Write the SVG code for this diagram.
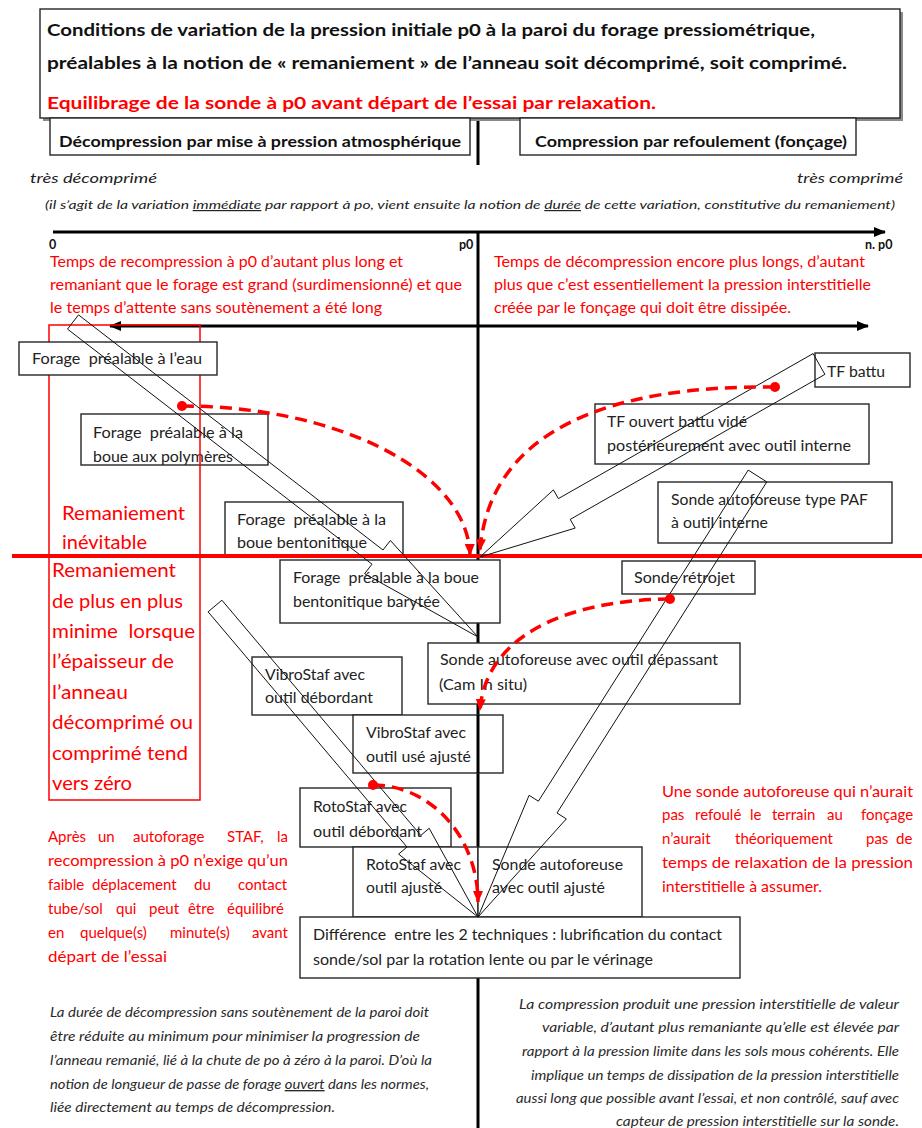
<svg xmlns="http://www.w3.org/2000/svg" width="922" height="1128" viewBox="0 0 922 1128">
<defs>
<style>
.f{font-family:Lato,"Liberation Sans",sans-serif}
.n{font-size:14.5px;fill:#222}
.box{fill:#fff;stroke:#262626;stroke-width:1.4}
.hb{font-weight:bold}
.red{fill:#ff0000}
.it{font-style:italic}
.ho{fill:none;stroke:#111;stroke-width:1}
.dash{fill:none;stroke:#ff0000;stroke-width:3.5;stroke-dasharray:12 7}
.ax{stroke:#000;stroke-width:3;fill:none}
.rb{fill:none;stroke:#ff0000;stroke-width:1.5}
.rt{font-size:14.5px;fill:#ff0000}
.rbig{font-size:20px;fill:#ff0000}
.bi{font-size:13.5px;fill:#2a2a2a;font-style:italic}
</style>
<marker id="ak" viewBox="0 0 12 10" refX="11" refY="5" markerWidth="12" markerHeight="10" markerUnits="userSpaceOnUse" orient="auto-start-reverse"><path d="M0,0 L12,5 L0,10 z" fill="#000"/></marker>
<marker id="ar" viewBox="0 0 12 10" refX="11" refY="5" markerWidth="12" markerHeight="10" markerUnits="userSpaceOnUse" orient="auto"><path d="M0,0 L12,5 L0,10 z" fill="#ff0000"/></marker>
</defs>
<rect width="922" height="1128" fill="#fff"/>

<g id="axes">
<line class="ax" x1="478" y1="118" x2="478" y2="165"/>
<line class="ax" x1="478" y1="232" x2="478" y2="1128"/>
<line class="ax" x1="53" y1="232" x2="885" y2="232" marker-end="url(#ak)"/>
<line class="ax" x1="110" y1="326" x2="868" y2="326" marker-start="url(#ak)" marker-end="url(#ak)"/>
</g>

<g id="n-title">
<rect x="43" y="12" width="860" height="109" fill="#8a8a8a"/>
<rect x="40" y="9" width="860" height="109" class="box"/>
<text class="f hb" x="47" y="36" font-size="17" fill="#111" textLength="768" lengthAdjust="spacingAndGlyphs">Conditions de variation de la pression initiale p0 à la paroi du forage pressiométrique,</text>
<text class="f hb" x="47" y="69" font-size="17" fill="#111" textLength="800" lengthAdjust="spacingAndGlyphs">préalables à la notion de « remaniement » de l’anneau soit décomprimé, soit comprimé.</text>
<text class="f hb red" x="47" y="109" font-size="17" textLength="609" lengthAdjust="spacingAndGlyphs">Equilibrage de la sonde à p0 avant départ de l’essai par relaxation.</text>
</g>

<g id="n-decomp">
<rect x="50" y="118" width="420" height="37" class="box"/>
<text class="f hb" x="59" y="147" font-size="15.5" fill="#111" textLength="402" lengthAdjust="spacingAndGlyphs">Décompression par mise à pression atmosphérique</text>
</g>
<g id="n-comp">
<rect x="520" y="118" width="336" height="37" class="box"/>
<text class="f hb" x="535" y="147" font-size="15.5" fill="#111" textLength="312" lengthAdjust="spacingAndGlyphs">Compression par refoulement (fonçage)</text>
</g>

<g id="scale-labels">
<text class="f it" x="30" y="183" font-size="14" fill="#222" textLength="127" lengthAdjust="spacingAndGlyphs">très décomprimé</text>
<text class="f it" x="797" y="183" font-size="14" fill="#222" textLength="106" lengthAdjust="spacingAndGlyphs">très comprimé</text>
<text class="f it" x="45" y="209" font-size="12" fill="#222" textLength="850" lengthAdjust="spacingAndGlyphs">(il s’agit de la variation <tspan text-decoration="underline">immédiate</tspan> par rapport à po, vient ensuite la notion de <tspan text-decoration="underline">durée</tspan> de cette variation, constitutive du remaniement)</text>
<text class="f hb" x="49" y="249" font-size="12.5" fill="#111">0</text>
<text class="f hb" x="459" y="249" font-size="12.5" fill="#111">p0</text>
<text class="f hb" x="865" y="249" font-size="12.5" fill="#111">n. p0</text>
</g>

<g id="red-notes-top">
<text class="f rt" x="50" y="267" textLength="353" lengthAdjust="spacingAndGlyphs">Temps de recompression à p0 d’autant plus long et</text>
<text class="f rt" x="50" y="290" textLength="412" lengthAdjust="spacingAndGlyphs">remaniant que le forage est grand (surdimensionné) et que</text>
<text class="f rt" x="50" y="313" textLength="332" lengthAdjust="spacingAndGlyphs">le temps d’attente sans soutènement a été long</text>
<text class="f rt" x="494" y="267" textLength="371" lengthAdjust="spacingAndGlyphs">Temps de décompression encore plus longs, d’autant</text>
<text class="f rt" x="494" y="290" textLength="377" lengthAdjust="spacingAndGlyphs">plus que c’est essentiellement la pression interstitielle</text>
<text class="f rt" x="494" y="313" textLength="297" lengthAdjust="spacingAndGlyphs">créée par le fonçage qui doit être dissipée.</text>
</g>

<g id="n-polym">
<rect x="81" y="414" width="187" height="51" class="box"/>
<text class="f n" x="93" y="438" xml:space="preserve" textLength="150" lengthAdjust="spacingAndGlyphs">Forage  préalable à la</text>
<text class="f n" x="93" y="462" textLength="140" lengthAdjust="spacingAndGlyphs">boue aux polymères</text>
</g>

<g id="remaniement-zone">
<rect x="49" y="325" width="151" height="475" class="rb"/>
<text class="f rbig" x="62" y="520" textLength="123" lengthAdjust="spacingAndGlyphs">Remaniement</text>
<text class="f rbig" x="62" y="549" textLength="85" lengthAdjust="spacingAndGlyphs">inévitable</text>
<text class="f rbig" x="52" y="577" textLength="124" lengthAdjust="spacingAndGlyphs">Remaniement</text>
<text class="f rbig" x="52" y="608" textLength="131" lengthAdjust="spacingAndGlyphs">de plus en plus</text>
<text class="f rbig" x="52" y="638" xml:space="preserve" textLength="143" lengthAdjust="spacingAndGlyphs">minime  lorsque</text>
<text class="f rbig" x="52" y="668" textLength="122" lengthAdjust="spacingAndGlyphs">l’épaisseur de</text>
<text class="f rbig" x="52" y="699" textLength="76" lengthAdjust="spacingAndGlyphs">l’anneau</text>
<text class="f rbig" x="52" y="729" textLength="141" lengthAdjust="spacingAndGlyphs">décomprimé ou</text>
<text class="f rbig" x="52" y="760" textLength="136" lengthAdjust="spacingAndGlyphs">comprimé tend</text>
<text class="f rbig" x="52" y="790" textLength="80" lengthAdjust="spacingAndGlyphs">vers zéro</text>
</g>

<g id="n-eau">
<rect x="19" y="342" width="198" height="33" class="box"/>
<text class="f n" x="32" y="364" xml:space="preserve" textLength="170" lengthAdjust="spacingAndGlyphs">Forage  préalable à l’eau</text>
</g>
<g id="n-bento">
<rect x="225" y="502" width="178" height="55" class="box"/>
<text class="f n" x="237" y="525" xml:space="preserve" textLength="149" lengthAdjust="spacingAndGlyphs">Forage  préalable à la</text>
<text class="f n" x="237" y="548" textLength="130" lengthAdjust="spacingAndGlyphs">boue bentonitique</text>
</g>
<g id="n-baryt">
<rect x="280" y="560" width="220" height="63" class="box"/>
<text class="f n" x="293" y="583" xml:space="preserve" textLength="186" lengthAdjust="spacingAndGlyphs">Forage  préalable à la boue</text>
<text class="f n" x="293" y="607" textLength="147" lengthAdjust="spacingAndGlyphs">bentonitique barytée</text>
</g>
<g id="n-tfbattu">
<rect x="815" y="353" width="95" height="34" class="box"/>
<text class="f n" x="827" y="377" textLength="58" lengthAdjust="spacingAndGlyphs">TF battu</text>
</g>
<g id="n-tfouvert">
<rect x="595" y="404" width="274" height="60" class="box"/>
<text class="f n" x="607" y="427" textLength="140" lengthAdjust="spacingAndGlyphs">TF ouvert battu vidé</text>
<text class="f n" x="607" y="451" textLength="244" lengthAdjust="spacingAndGlyphs">postérieurement avec outil interne</text>
</g>
<g id="n-paf">
<rect x="658" y="482" width="234" height="61" class="box"/>
<text class="f n" x="671" y="505" textLength="197" lengthAdjust="spacingAndGlyphs">Sonde autoforeuse type PAF</text>
<text class="f n" x="671" y="528" textLength="97" lengthAdjust="spacingAndGlyphs">à outil interne</text>
</g>
<g id="n-retrojet">
<rect x="622" y="561" width="133" height="33" class="box"/>
<text class="f n" x="634" y="583" textLength="101" lengthAdjust="spacingAndGlyphs">Sonde rétrojet</text>
</g>
<g id="n-cam">
<rect x="428" y="643" width="312" height="61" class="box"/>
<text class="f n" x="440" y="665" textLength="278" lengthAdjust="spacingAndGlyphs">Sonde autoforeuse avec outil dépassant</text>
<text class="f n" x="439" y="690" textLength="88" lengthAdjust="spacingAndGlyphs">(Cam In situ)</text>
</g>
<g id="n-vibro-deb">
<rect x="252" y="657" width="150" height="58" class="box"/>
<text class="f n" x="265" y="680" textLength="100" lengthAdjust="spacingAndGlyphs">VibroStaf avec</text>
<text class="f n" x="265" y="703" textLength="108" lengthAdjust="spacingAndGlyphs">outil débordant</text>
</g>
<g id="n-vibro-aj">
<rect x="353" y="715" width="150" height="58" class="box"/>
<line class="ax" x1="478" y1="715" x2="478" y2="773"/>
<text class="f n" x="366" y="738" textLength="100" lengthAdjust="spacingAndGlyphs">VibroStaf avec</text>
<text class="f n" x="366" y="762" textLength="105" lengthAdjust="spacingAndGlyphs">outil usé ajusté</text>
</g>
<g id="n-roto-deb">
<rect x="300" y="788" width="151" height="59" class="box"/>
<text class="f n" x="313" y="812" textLength="94" lengthAdjust="spacingAndGlyphs">RotoStaf avec</text>
<text class="f n" x="313" y="837" textLength="109" lengthAdjust="spacingAndGlyphs">outil débordant</text>
</g>
<g id="n-roto-aj">
<rect x="353" y="847" width="125" height="70" class="box"/>
<text class="f n" x="366" y="870" textLength="95" lengthAdjust="spacingAndGlyphs">RotoStaf avec</text>
<text class="f n" x="366" y="893" textLength="76" lengthAdjust="spacingAndGlyphs">outil ajusté</text>
</g>
<g id="n-sonde-aj">
<rect x="478" y="847" width="164" height="70" class="box"/>
<text class="f n" x="492" y="870" textLength="131" lengthAdjust="spacingAndGlyphs">Sonde autoforeuse</text>
<text class="f n" x="492" y="893" textLength="113" lengthAdjust="spacingAndGlyphs">avec outil ajusté</text>
</g>
<g id="n-diff">
<rect x="300" y="917" width="440" height="61" class="box"/>
<text class="f n" x="313" y="940" xml:space="preserve" textLength="409" lengthAdjust="spacingAndGlyphs">Différence  entre les 2 techniques : lubrification du contact</text>
<text class="f n" x="313" y="965" textLength="340" lengthAdjust="spacingAndGlyphs">sonde/sol par la rotation lente ou par le vérinage</text>
</g>

<g id="red-line">
<line x1="12" y1="556" x2="922" y2="556" stroke="#ff0000" stroke-width="4"/>
</g>

<g id="red-notes-bottom" class="f" font-size="15" fill="#ff0000">
<text y="842"><tspan x="48">Après</tspan><tspan x="98">un</tspan><tspan x="133">autoforage</tspan><tspan x="227">STAF,</tspan><tspan x="277">la</tspan></text>
<text x="48" y="866" textLength="240" lengthAdjust="spacingAndGlyphs">recompression à p0 n’exige qu’un</text>
<text y="890"><tspan x="48">faible</tspan><tspan x="92">déplacement</tspan><tspan x="194">du</tspan><tspan x="238">contact</tspan></text>
<text y="914"><tspan x="48">tube/sol</tspan><tspan x="116">qui</tspan><tspan x="149">peut</tspan><tspan x="188">être</tspan><tspan x="227">équilibré</tspan></text>
<text y="938"><tspan x="48">en</tspan><tspan x="80">quelque(s)</tspan><tspan x="170">minute(s)</tspan><tspan x="252">avant</tspan></text>
<text x="48" y="962" textLength="119" lengthAdjust="spacingAndGlyphs">départ de l’essai</text>
<text x="662" y="797" textLength="251" lengthAdjust="spacingAndGlyphs">Une sonde autoforeuse qui n’aurait</text>
<text y="820"><tspan x="662">pas</tspan><tspan x="695">refoulé</tspan><tspan x="750">le</tspan><tspan x="772">terrain</tspan><tspan x="827">au</tspan><tspan x="861">fonçage</tspan></text>
<text y="844"><tspan x="662">n’aurait</tspan><tspan x="735">théoriquement</tspan><tspan x="866">pas</tspan><tspan x="896">de</tspan></text>
<text x="662" y="868" textLength="251" lengthAdjust="spacingAndGlyphs">temps de relaxation de la pression</text>
<text x="662" y="892" textLength="160" lengthAdjust="spacingAndGlyphs">interstitielle à assumer.</text>
</g>

<g id="bottom-notes" class="f">
<text class="bi" x="50" y="1017" textLength="379" lengthAdjust="spacingAndGlyphs">La durée de décompression sans soutènement de la paroi doit</text>
<text class="bi" x="50" y="1041" textLength="370" lengthAdjust="spacingAndGlyphs">être réduite au minimum pour minimiser la progression de</text>
<text class="bi" x="50" y="1065" textLength="382" lengthAdjust="spacingAndGlyphs">l’anneau remanié, lié à la chute de po à zéro à la paroi. D’où la</text>
<text class="bi" x="50" y="1089" textLength="379" lengthAdjust="spacingAndGlyphs">notion de longueur de passe de forage <tspan text-decoration="underline">ouvert</tspan> dans les normes,</text>
<text class="bi" x="50" y="1112" textLength="285" lengthAdjust="spacingAndGlyphs">liée directement au temps de décompression.</text>
<text class="bi" x="519" y="1009" textLength="380" lengthAdjust="spacingAndGlyphs">La compression produit une pression interstitielle de valeur</text>
<text class="bi" x="542" y="1032" textLength="357" lengthAdjust="spacingAndGlyphs">variable, d’autant plus remaniante qu’elle est élevée par</text>
<text class="bi" x="522" y="1056" textLength="377" lengthAdjust="spacingAndGlyphs">rapport à la pression limite dans les sols mous cohérents. Elle</text>
<text class="bi" x="531" y="1080" textLength="368" lengthAdjust="spacingAndGlyphs">implique un temps de dissipation de la pression interstitielle</text>
<text class="bi" x="516" y="1103" textLength="383" lengthAdjust="spacingAndGlyphs">aussi long que possible avant l’essai, et non contrôlé, sauf avec</text>
<text class="bi" x="616" y="1126" textLength="283" lengthAdjust="spacingAndGlyphs">capteur de pression interstitielle sur la sonde.</text>
</g>

<g id="connectors">
<polygon class="ho" points="67.5,329.1 372.0,564.2 364.6,573.7 478,637 390.4,540.5 383.0,550.0 78.5,314.9"/>
<polygon class="ho" points="813.1,353.6 558.4,498.6 553.4,489.9 480,557 575.2,528.1 570.2,519.4 824.9,374.4"/>
<polygon class="ho" points="748.2,470.1 538.4,801.2 529.1,795.3 478,917 566.3,818.9 557.0,813.0 766.8,481.9"/>
<polygon class="ho" points="208.1,611.8 407.0,847.0 398.6,854.1 478,917 429.2,828.3 420.8,835.4 221.9,600.2"/>
<path class="dash" d="M182,406 A288,151 0 0 1 470,555" marker-end="url(#ar)"/>
<path class="dash" d="M775,387 C610,385 490,430 480,550" marker-end="url(#ar)"/>
<path class="dash" d="M670,599 C560,600 485,640 480,710" marker-end="url(#ar)"/>
<path class="dash" d="M373,785 A105,117 0 0 1 478,902" marker-end="url(#ar)"/>
<circle cx="182" cy="406" r="5" fill="#ff0000"/>
<circle cx="775" cy="387" r="5" fill="#ff0000"/>
<circle cx="670" cy="599" r="5" fill="#ff0000"/>
<circle cx="373" cy="785" r="5" fill="#ff0000"/>
</g>
</svg>
